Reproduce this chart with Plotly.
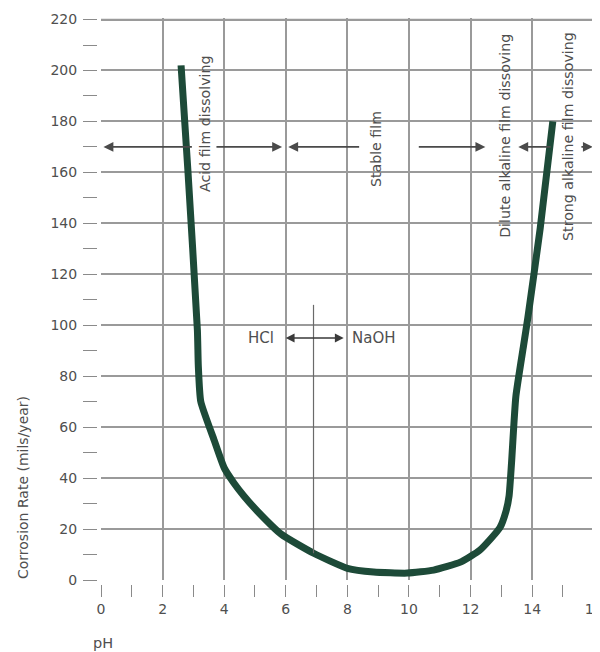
import plotly.graph_objects as go

# Data
ph = [2.6, 2.82, 3.13, 3.16, 3.24, 3.67, 4.0, 4.32, 4.64, 5.08, 5.85, 6.92, 8.0, 8.85,
      9.95, 10.8, 11.67, 12.3, 12.95, 13.15, 13.25, 13.33, 13.47, 13.72, 13.86, 14.26, 14.67]
rate = [202, 161, 98, 84, 70, 55, 44, 38, 33, 27, 18, 10.4, 4.6, 3.1,
        2.7, 3.9, 7.0, 11.7, 20.5, 27, 33, 46, 72, 92, 103, 138, 180]

x_ticks = [0, 2, 4, 6, 8, 10, 12, 14, 16]
y_ticks = [0, 20, 40, 60, 80, 100, 120, 140, 160, 180, 200, 220]

region_labels = ["Acid film dissolving", "Stable film",
                 "Dilute alkaline film dissoving", "Strong alkaline film dissoving"]
region_label_x = [3.38, 8.95, 13.13, 15.17]
region_label_y = [179, 169, 174.5, 174]

# arrow segments: (tail_x, tip_x) at y=170
arrow_tail = [3.0, 3.7, 8.43, 10.27, 14.65, 15.55]
arrow_tip = [0.08, 5.88, 6.08, 12.48, 13.55, 15.97]
arrow_y = 170

FONT = "DejaVu Sans"
TXT = "#4f4f4f"
GRID = "#9a9a9a"

fig = go.Figure()
fig.add_trace(go.Scatter(
    x=ph, y=rate, mode="lines",
    line=dict(color="#1d4a38", width=7, shape="spline", smoothing=0.5),
    hoverinfo="skip", showlegend=False))

# HCl / NaOH divider line
fig.add_trace(go.Scatter(
    x=[6.9, 6.9], y=[108, 10.5], mode="lines",
    line=dict(color="#6a6a6a", width=1.2), hoverinfo="skip", showlegend=False))

annotations = []
for t, h in zip(arrow_tail, arrow_tip):
    annotations.append(dict(x=h, y=arrow_y, ax=t, ay=arrow_y, xref="x", yref="y",
                            axref="x", ayref="y", text="", showarrow=True,
                            arrowhead=2, arrowsize=1.1, arrowwidth=1.8,
                            arrowcolor="#4a4a4a", standoff=0, startstandoff=0))
for lab, lx, ly in zip(region_labels, region_label_x, region_label_y):
    annotations.append(dict(x=lx, y=ly, xref="x", yref="y", text=lab, textangle=-90,
                            showarrow=False, font=dict(family=FONT, size=14.2, color=TXT),
                            xanchor="center", yanchor="middle"))

# HCl <-> NaOH
annotations.append(dict(x=7.88, y=95, ax=5.95, ay=95, xref="x", yref="y", axref="x",
                        ayref="y", text="", showarrow=True, arrowhead=2, arrowsize=1.1,
                        arrowwidth=1.6, arrowside="end+start", arrowcolor="#3a3a3a",
                        standoff=0, startstandoff=0))
annotations.append(dict(x=5.67, y=95, xref="x", yref="y", text="HCl", showarrow=False,
                        xanchor="right", yanchor="middle",
                        font=dict(family=FONT, size=15, color=TXT)))
annotations.append(dict(x=8.1, y=95, xref="x", yref="y", text="NaOH", showarrow=False,
                        xanchor="left", yanchor="middle",
                        font=dict(family=FONT, size=15, color=TXT)))

# axis titles
annotations.append(dict(x=-0.149, y=0.171, xref="paper", yref="paper",
                        text="Corrosion Rate (mils/year)", textangle=-90, showarrow=False,
                        xanchor="center", yanchor="middle",
                        font=dict(family=FONT, size=14, color=TXT)))
annotations.append(dict(x=0.012, y=-0.104, xref="paper", yref="paper", text="pH",
                        showarrow=False, xanchor="center", yanchor="middle",
                        font=dict(family=FONT, size=14.5, color=TXT)))

# boundary grid lines (top at 220, right at 16) that plotly clips at the range edges
shapes = [
    dict(type="line", xref="x domain", yref="y", x0=0, x1=1, y0=y_ticks[-1], y1=y_ticks[-1],
         line=dict(color=GRID, width=1.6), layer="below"),
    dict(type="line", xref="x", yref="y domain", x0=x_ticks[-1], x1=x_ticks[-1], y0=0, y1=1,
         line=dict(color=GRID, width=1.6), layer="below"),
]

fig.update_layout(
    width=600, height=644,
    margin=dict(l=89, r=13, t=10, b=68),
    paper_bgcolor="white", plot_bgcolor="white",
    annotations=annotations, shapes=shapes,
    xaxis=dict(range=[0, 16.04], domain=[4 / 498, 1], anchor="free", position=0,
               tickvals=x_ticks, ticktext=[str(v) for v in x_ticks],
               ticks="outside", ticklen=12, tickwidth=1.3, tickcolor="#8a8a8a",
               minor=dict(dtick=1, tick0=0, ticks="outside", ticklen=12, tickwidth=1.3,
                          tickcolor="#8a8a8a", showgrid=False),
               showgrid=True, gridcolor=GRID, gridwidth=1.6, zeroline=False,
               showline=False, automargin=False,
               tickfont=dict(family=FONT, size=14, color=TXT)),
    yaxis=dict(range=[0, 220.6], domain=[4 / 566, 1], anchor="free", position=0,
               tickvals=y_ticks, ticktext=[str(v) for v in y_ticks],
               ticks="outside", ticklen=14, tickwidth=1.3, tickcolor="#8a8a8a",
               minor=dict(dtick=10, tick0=0, ticks="outside", ticklen=14, tickwidth=1.3,
                          tickcolor="#8a8a8a", showgrid=False),
               showgrid=True, gridcolor=GRID, gridwidth=1.6, zeroline=False,
               showline=False, ticklabelstandoff=3, automargin=False,
               tickfont=dict(family=FONT, size=14, color=TXT)),
)

fig.write_html("out.html")
